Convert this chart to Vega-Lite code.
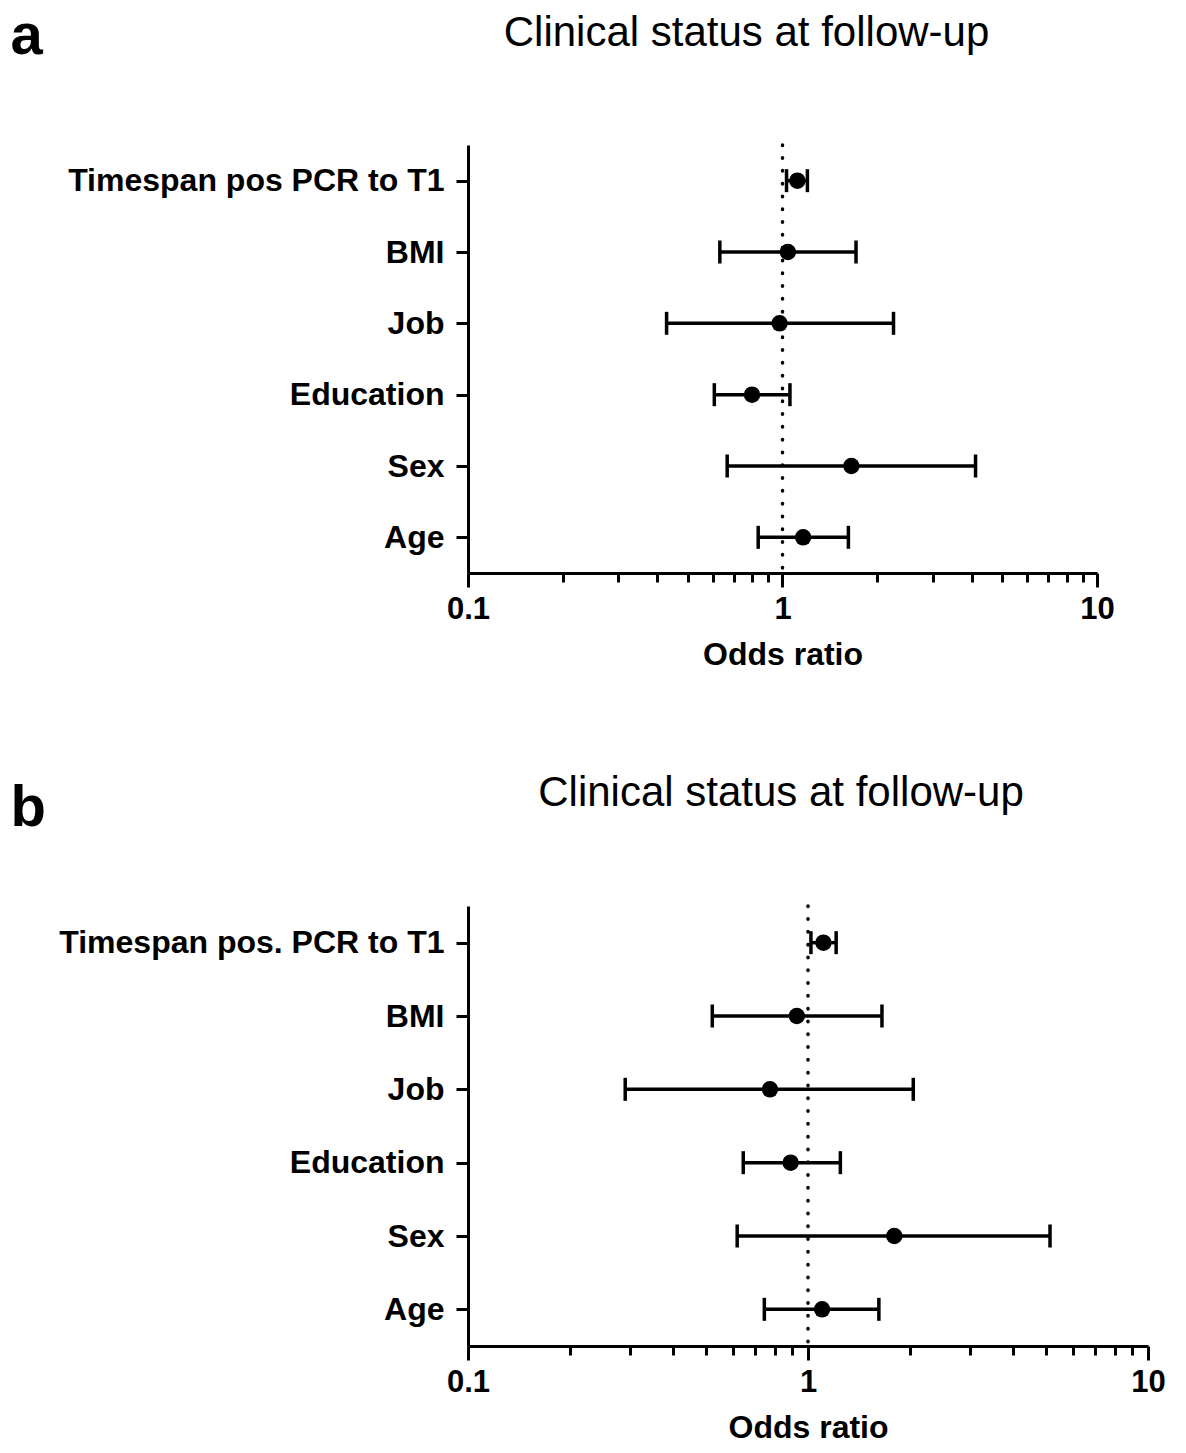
{
  "$schema": "https://vega.github.io/schema/vega-lite/v6.json",
  "background": "white",
  "padding": {"left": 10, "top": 7, "right": 0, "bottom": 0},
  "config": {
    "view": {"stroke": null},
    "font": "Liberation Sans",
    "axisX": {"tickWidth": 3, "tickColor": "black", "domainWidth": 3, "domainColor": "black", "grid": false,
      "labelFont": "Liberation Sans", "labelFontSize": 31, "labelFontWeight": "bold", "labelColor": "black", "labelPadding": 7, "labelOverlap": false, "labelFlush": false,
      "titleFont": "Liberation Sans", "titleFontSize": 32, "titleFontWeight": "bold", "titleColor": "black", "titlePadding": 15},
    "axisY": {"titleAngle": 0, "titleAlign": "left", "titleBaseline": "alphabetic", "titleFont": "Liberation Sans", "titleFontSize": 58, "titleFontWeight": "bold", "titleColor": "black",
      "labelFont": "Liberation Sans", "labelFontSize": 32, "labelFontWeight": "bold", "labelColor": "black", "labelPadding": 12, "labelLimit": 0,
      "tickSize": 12, "tickWidth": 3, "tickColor": "black", "domainWidth": 3, "domainColor": "black", "grid": false}
  },
  "datasets": {
    "a": [
      {"var": "Timespan pos PCR to T1", "or": 1.115, "lo": 1.03, "hi": 1.2},
      {"var": "BMI", "or": 1.04, "lo": 0.632, "hi": 1.713},
      {"var": "Job", "or": 0.979, "lo": 0.428, "hi": 2.254},
      {"var": "Education\u00a0", "or": 0.8, "lo": 0.607, "hi": 1.056},
      {"var": "Sex", "or": 1.656, "lo": 0.667, "hi": 4.11},
      {"var": "Age", "or": 1.163, "lo": 0.837, "hi": 1.62}
    ],
    "b": [
      {"var": "Timespan pos. PCR to T1", "or": 1.11, "lo": 1.02, "hi": 1.21},
      {"var": "BMI", "or": 0.927, "lo": 0.523, "hi": 1.65},
      {"var": "Job", "or": 0.773, "lo": 0.29, "hi": 2.04},
      {"var": "Education\u00a0", "or": 0.889, "lo": 0.645, "hi": 1.245},
      {"var": "Sex", "or": 1.794, "lo": 0.619, "hi": 5.15},
      {"var": "Age", "or": 1.1, "lo": 0.744, "hi": 1.616}
    ],
    "ref": [{"or": 1}]
  },
  "columns": 1,
  "spacing": 102,
  "concat": [
    {
      "width": 629,
      "height": 428,
      "title": {"text": "Clinical status at follow-up", "font": "Liberation Sans", "fontSize": 42, "fontWeight": "normal", "color": "black", "anchor": "middle", "frame": "group", "dx": -36, "baseline": "alphabetic", "offset": -80.5},
      "layer": [
        {
          "data": {"name": "a"},
          "mark": {"type": "rule", "strokeWidth": 3.5, "color": "black"},
          "encoding": {
            "x": {"field": "lo", "type": "quantitative", "scale": {"type": "log", "domain": [0.1, 10], "nice": false}, "title": "Odds ratio",
              "axis": {"values": [0.1, 0.2, 0.3, 0.4, 0.5, 0.6, 0.7, 0.8, 0.9, 1, 2, 3, 4, 5, 6, 7, 8, 9, 10], "labelExpr": "datum.value == 0.1 ? '0.1' : datum.value == 1 ? '1' : datum.value == 10 ? '10' : ''", "tickSize": {"condition": {"test": "datum.value == 0.1 || datum.value == 1 || datum.value == 10", "value": 14}, "value": 9}}},
            "x2": {"field": "hi"},
            "y": {"field": "var", "type": "nominal", "sort": ["Timespan pos PCR to T1", "BMI", "Job", "Education\u00a0", "Sex", "Age"], "scale": {"type": "point", "padding": 0.5}, "title": "a", "axis": {"titleX": -458, "titleY": -92}}
          }
        },
        {
          "data": {"name": "a"},
          "mark": {"type": "tick", "thickness": 3.5, "size": 23, "color": "black", "opacity": 1, "orient": "vertical"},
          "encoding": {
            "x": {"field": "lo", "type": "quantitative", "title": "Odds ratio",
              "axis": {"values": [0.1, 0.2, 0.3, 0.4, 0.5, 0.6, 0.7, 0.8, 0.9, 1, 2, 3, 4, 5, 6, 7, 8, 9, 10], "labelExpr": "datum.value == 0.1 ? '0.1' : datum.value == 1 ? '1' : datum.value == 10 ? '10' : ''", "tickSize": {"condition": {"test": "datum.value == 0.1 || datum.value == 1 || datum.value == 10", "value": 14}, "value": 9}}},
            "y": {"field": "var", "type": "nominal", "sort": ["Timespan pos PCR to T1", "BMI", "Job", "Education\u00a0", "Sex", "Age"], "title": "a", "axis": {"titleX": -458, "titleY": -92}}
          }
        },
        {
          "data": {"name": "a"},
          "mark": {"type": "tick", "thickness": 3.5, "size": 23, "color": "black", "opacity": 1, "orient": "vertical"},
          "encoding": {
            "x": {"field": "hi", "type": "quantitative", "title": "Odds ratio",
              "axis": {"values": [0.1, 0.2, 0.3, 0.4, 0.5, 0.6, 0.7, 0.8, 0.9, 1, 2, 3, 4, 5, 6, 7, 8, 9, 10], "labelExpr": "datum.value == 0.1 ? '0.1' : datum.value == 1 ? '1' : datum.value == 10 ? '10' : ''", "tickSize": {"condition": {"test": "datum.value == 0.1 || datum.value == 1 || datum.value == 10", "value": 14}, "value": 9}}},
            "y": {"field": "var", "type": "nominal", "sort": ["Timespan pos PCR to T1", "BMI", "Job", "Education\u00a0", "Sex", "Age"], "title": "a", "axis": {"titleX": -458, "titleY": -92}}
          }
        },
        {
          "data": {"name": "a"},
          "mark": {"type": "point", "filled": true, "opacity": 1, "size": 270, "color": "black"},
          "encoding": {
            "x": {"field": "or", "type": "quantitative", "title": "Odds ratio",
              "axis": {"values": [0.1, 0.2, 0.3, 0.4, 0.5, 0.6, 0.7, 0.8, 0.9, 1, 2, 3, 4, 5, 6, 7, 8, 9, 10], "labelExpr": "datum.value == 0.1 ? '0.1' : datum.value == 1 ? '1' : datum.value == 10 ? '10' : ''", "tickSize": {"condition": {"test": "datum.value == 0.1 || datum.value == 1 || datum.value == 10", "value": 14}, "value": 9}}},
            "y": {"field": "var", "type": "nominal", "sort": ["Timespan pos PCR to T1", "BMI", "Job", "Education\u00a0", "Sex", "Age"], "title": "a", "axis": {"titleX": -458, "titleY": -92}}
          }
        },
        {
          "data": {"name": "ref"},
          "mark": {"type": "rule", "strokeDash": [0.5, 12.3], "strokeCap": "round", "strokeWidth": 3.5, "color": "black"},
          "encoding": {"x": {"field": "or", "type": "quantitative", "title": "Odds ratio",
              "axis": {"values": [0.1, 0.2, 0.3, 0.4, 0.5, 0.6, 0.7, 0.8, 0.9, 1, 2, 3, 4, 5, 6, 7, 8, 9, 10], "labelExpr": "datum.value == 0.1 ? '0.1' : datum.value == 1 ? '1' : datum.value == 10 ? '10' : ''", "tickSize": {"condition": {"test": "datum.value == 0.1 || datum.value == 1 || datum.value == 10", "value": 14}, "value": 9}}}}
        }
      ]
    },
    {
      "width": 680,
      "height": 440,
      "title": {"text": "Clinical status at follow-up", "font": "Liberation Sans", "fontSize": 42, "fontWeight": "normal", "color": "black", "anchor": "middle", "frame": "group", "dx": -27, "baseline": "alphabetic", "offset": -69},
      "layer": [
        {
          "data": {"name": "b"},
          "mark": {"type": "rule", "strokeWidth": 3.5, "color": "black"},
          "encoding": {
            "x": {"field": "lo", "type": "quantitative", "scale": {"type": "log", "domain": [0.1, 10], "nice": false}, "title": "Odds ratio",
              "axis": {"values": [0.1, 0.2, 0.3, 0.4, 0.5, 0.6, 0.7, 0.8, 0.9, 1, 2, 3, 4, 5, 6, 7, 8, 9, 10], "labelExpr": "datum.value == 0.1 ? '0.1' : datum.value == 1 ? '1' : datum.value == 10 ? '10' : ''", "tickSize": {"condition": {"test": "datum.value == 0.1 || datum.value == 1 || datum.value == 10", "value": 14}, "value": 9}}},
            "x2": {"field": "hi"},
            "y": {"field": "var", "type": "nominal", "sort": ["Timespan pos. PCR to T1", "BMI", "Job", "Education\u00a0", "Sex", "Age"], "scale": {"type": "point", "padding": 0.5}, "title": "b", "axis": {"titleX": -458, "titleY": -81}}
          }
        },
        {
          "data": {"name": "b"},
          "mark": {"type": "tick", "thickness": 3.5, "size": 23, "color": "black", "opacity": 1, "orient": "vertical"},
          "encoding": {
            "x": {"field": "lo", "type": "quantitative", "title": "Odds ratio",
              "axis": {"values": [0.1, 0.2, 0.3, 0.4, 0.5, 0.6, 0.7, 0.8, 0.9, 1, 2, 3, 4, 5, 6, 7, 8, 9, 10], "labelExpr": "datum.value == 0.1 ? '0.1' : datum.value == 1 ? '1' : datum.value == 10 ? '10' : ''", "tickSize": {"condition": {"test": "datum.value == 0.1 || datum.value == 1 || datum.value == 10", "value": 14}, "value": 9}}},
            "y": {"field": "var", "type": "nominal", "sort": ["Timespan pos. PCR to T1", "BMI", "Job", "Education\u00a0", "Sex", "Age"], "title": "b", "axis": {"titleX": -458, "titleY": -81}}
          }
        },
        {
          "data": {"name": "b"},
          "mark": {"type": "tick", "thickness": 3.5, "size": 23, "color": "black", "opacity": 1, "orient": "vertical"},
          "encoding": {
            "x": {"field": "hi", "type": "quantitative", "title": "Odds ratio",
              "axis": {"values": [0.1, 0.2, 0.3, 0.4, 0.5, 0.6, 0.7, 0.8, 0.9, 1, 2, 3, 4, 5, 6, 7, 8, 9, 10], "labelExpr": "datum.value == 0.1 ? '0.1' : datum.value == 1 ? '1' : datum.value == 10 ? '10' : ''", "tickSize": {"condition": {"test": "datum.value == 0.1 || datum.value == 1 || datum.value == 10", "value": 14}, "value": 9}}},
            "y": {"field": "var", "type": "nominal", "sort": ["Timespan pos. PCR to T1", "BMI", "Job", "Education\u00a0", "Sex", "Age"], "title": "b", "axis": {"titleX": -458, "titleY": -81}}
          }
        },
        {
          "data": {"name": "b"},
          "mark": {"type": "point", "filled": true, "opacity": 1, "size": 270, "color": "black"},
          "encoding": {
            "x": {"field": "or", "type": "quantitative", "title": "Odds ratio",
              "axis": {"values": [0.1, 0.2, 0.3, 0.4, 0.5, 0.6, 0.7, 0.8, 0.9, 1, 2, 3, 4, 5, 6, 7, 8, 9, 10], "labelExpr": "datum.value == 0.1 ? '0.1' : datum.value == 1 ? '1' : datum.value == 10 ? '10' : ''", "tickSize": {"condition": {"test": "datum.value == 0.1 || datum.value == 1 || datum.value == 10", "value": 14}, "value": 9}}},
            "y": {"field": "var", "type": "nominal", "sort": ["Timespan pos. PCR to T1", "BMI", "Job", "Education\u00a0", "Sex", "Age"], "title": "b", "axis": {"titleX": -458, "titleY": -81}}
          }
        },
        {
          "data": {"name": "ref"},
          "mark": {"type": "rule", "strokeDash": [0.5, 12.3], "strokeCap": "round", "strokeWidth": 3.5, "color": "black"},
          "encoding": {"x": {"field": "or", "type": "quantitative", "title": "Odds ratio",
              "axis": {"values": [0.1, 0.2, 0.3, 0.4, 0.5, 0.6, 0.7, 0.8, 0.9, 1, 2, 3, 4, 5, 6, 7, 8, 9, 10], "labelExpr": "datum.value == 0.1 ? '0.1' : datum.value == 1 ? '1' : datum.value == 10 ? '10' : ''", "tickSize": {"condition": {"test": "datum.value == 0.1 || datum.value == 1 || datum.value == 10", "value": 14}, "value": 9}}}}
        }
      ]
    }
  ]
}
